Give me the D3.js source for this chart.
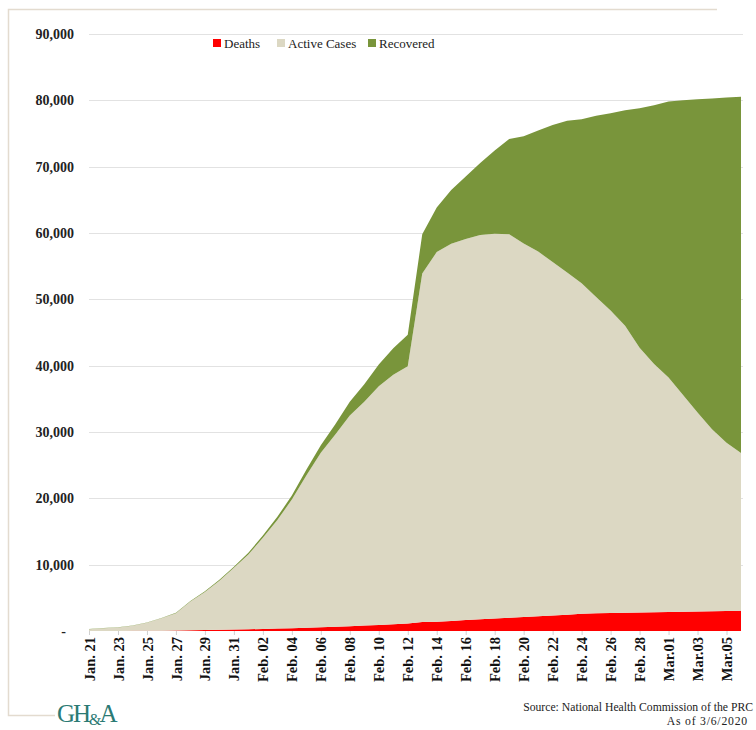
<!DOCTYPE html>
<html>
<head>
<meta charset="utf-8">
<script src="https://cdn.jsdelivr.net/npm/d3@7"></script>
<style>
  html, body { margin: 0; padding: 0; background: #ffffff; }
  svg { display: block; }
</style>
</head>
<body>
<svg id="chart" width="756" height="730"></svg>
<script>
// Daily report dates (NHC morning reports)
const days = [
  "Jan. 21","Jan. 22","Jan. 23","Jan. 24","Jan. 25","Jan. 26","Jan. 27","Jan. 28","Jan. 29","Jan. 30","Jan. 31",
  "Feb. 01","Feb. 02","Feb. 03","Feb. 04","Feb. 05","Feb. 06","Feb. 07","Feb. 08","Feb. 09","Feb. 10",
  "Feb. 11","Feb. 12","Feb. 13","Feb. 14","Feb. 15","Feb. 16","Feb. 17","Feb. 18","Feb. 19","Feb. 20",
  "Feb. 21","Feb. 22","Feb. 23","Feb. 24","Feb. 25","Feb. 26","Feb. 27","Feb. 28","Feb. 29",
  "Mar.01","Mar.02","Mar.03","Mar.04","Mar.05","Mar.06"
];

// Cumulative deaths
const deaths = [
  6, 9, 17, 25, 41, 56, 80, 106, 132, 170, 213,
  259, 304, 361, 425, 490, 563, 636, 722, 811, 908,
  1016, 1113, 1367, 1380, 1523, 1665, 1770, 1868, 2004, 2118,
  2236, 2345, 2442, 2592, 2663, 2715, 2744, 2788, 2835,
  2870, 2912, 2943, 2981, 3012, 3042
];

// Active (confirmed, not yet recovered or deceased)
const active = [
  260, 403, 526, 771, 1208, 1870, 2613, 4349, 5739, 7417, 9308,
  11289, 13748, 16369, 19381, 22942, 26302, 28985, 31774, 33738, 35982,
  37626, 38800, 52526, 55748, 56873, 57416, 57934, 58016, 57805, 56303,
  54965, 53284, 51606, 49824, 47672, 45604, 43258, 39919, 37414,
  35329, 32652, 30004, 27433, 25352, 23784
];

// Cumulative recovered
const recovered = [
  25, 28, 28, 34, 38, 49, 51, 60, 103, 124, 171,
  243, 328, 475, 632, 892, 1153, 1540, 2050, 2649, 3281,
  3996, 4740, 5911, 6723, 8096, 9419, 10844, 12552, 14376, 16155,
  18264, 20659, 22888, 24734, 27323, 29745, 32495, 36117, 39002,
  41625, 44462, 47204, 49856, 52045, 53726
];

const seriesKeys = ["deaths", "active", "recovered"];
const seriesNames = ["Deaths", "Active Cases", "Recovered"];
const seriesColors = ["#ff0000", "#dcd8c3", "#79953b"];
const yTicks = [0, 10000, 20000, 30000, 40000, 50000, 60000, 70000, 80000, 90000];

const rows = days.map((d, i) => ({
  i, day: d, deaths: deaths[i], active: active[i], recovered: recovered[i]
}));

const svg = d3.select("#chart");
const serif = "'Liberation Serif', 'DejaVu Serif', serif";

const x = d3.scaleLinear().domain([0, days.length - 1]).range([89, 741]);
const y = d3.scaleLinear().domain([0, 90000]).range([631, 34]);

// Outer frame (top and left edges)
const frameColor = "#e3dbcf";
svg.append("path")
  .attr("d", "M717,9.5 H8.5 V715.5 H55")
  .attr("fill", "none")
  .attr("stroke", frameColor)
  .attr("stroke-width", 1.5);

// Horizontal gridlines
svg.append("g")
  .selectAll("line")
  .data(yTicks.filter(t => t > 0))
  .join("line")
  .attr("x1", 89).attr("x2", 743)
  .attr("y1", d => Math.round(y(d)) + 0.5)
  .attr("y2", d => Math.round(y(d)) + 0.5)
  .attr("stroke", "#e2e2e2")
  .attr("stroke-width", 1);

// Stacked areas
const stack = d3.stack().keys(seriesKeys);
const layers = stack(rows);
const area = d3.area()
  .x(d => x(d.data.i))
  .y0(d => y(d[0]))
  .y1(d => y(d[1]));

svg.append("g")
  .selectAll("path")
  .data(layers)
  .join("path")
  .attr("d", area)
  .attr("fill", (d, k) => seriesColors[k]);

// Y axis labels
const yAxis = d3.axisLeft(y)
  .tickValues(yTicks)
  .tickSize(0)
  .tickPadding(0)
  .tickFormat(d => d === 0 ? "-" : d3.format(",")(d));

const yg = svg.append("g")
  .attr("transform", "translate(74,0)")
  .call(yAxis);
yg.select(".domain").remove();
yg.selectAll("text")
  .attr("font-family", serif)
  .attr("font-weight", "bold")
  .attr("font-size", 14)
  .attr("fill", "#222");
yg.selectAll(".tick")
  .filter(d => d === 0)
  .select("text")
  .attr("dx", -8);

// X axis: ticks and rotated date labels every other day
const labelIdx = d3.range(0, days.length, 2);
const xAxis = d3.axisBottom(x)
  .tickValues(labelIdx)
  .tickSize(4)
  .tickPadding(6)
  .tickFormat(i => days[i]);

const xg = svg.append("g")
  .attr("transform", "translate(0,631)")
  .call(xAxis);
xg.select(".domain").remove();
xg.selectAll(".tick line").attr("stroke", "#d0d0d0");
xg.selectAll("text")
  .attr("font-family", serif)
  .attr("font-weight", "bold")
  .attr("font-size", 14.5)
  .attr("fill", "#111")
  .attr("text-anchor", "end")
  .attr("transform", "rotate(-90)")
  .attr("x", -6)
  .attr("y", 0)
  .attr("dy", "0.35em");

// Legend
const legendX = [213, 277, 368];
const lg = svg.append("g").attr("font-family", serif).attr("font-size", 13);
seriesNames.forEach((name, k) => {
  lg.append("rect")
    .attr("x", legendX[k]).attr("y", 39)
    .attr("width", 8).attr("height", 8)
    .attr("fill", seriesColors[k]);
  lg.append("text")
    .attr("x", legendX[k] + 11).attr("y", 48)
    .attr("fill", "#222")
    .text(name);
});

// Source note
const note = svg.append("g")
  .attr("font-family", serif)
  .attr("font-size", 11.7)
  .attr("fill", "#222")
  .attr("text-anchor", "end");
note.append("text").attr("x", 753).attr("y", 711).text("Source: National Health Commission of the PRC");
note.append("text").attr("x", 748).attr("y", 725).attr("letter-spacing", 0.8).text("As of 3/6/2020");

// Logo mark
const logo = svg.append("text")
  .attr("x", 57).attr("y", 722)
  .attr("font-family", serif)
  .attr("font-size", 25)
  .attr("fill", "#2b7a74")
  .attr("letter-spacing", -2);
logo.append("tspan").text("GH");
logo.append("tspan").attr("font-size", 16).attr("dy", 3).text("&");
logo.append("tspan").attr("dy", -3).attr("font-size", 25).text("A");
</script>
</body>
</html>
